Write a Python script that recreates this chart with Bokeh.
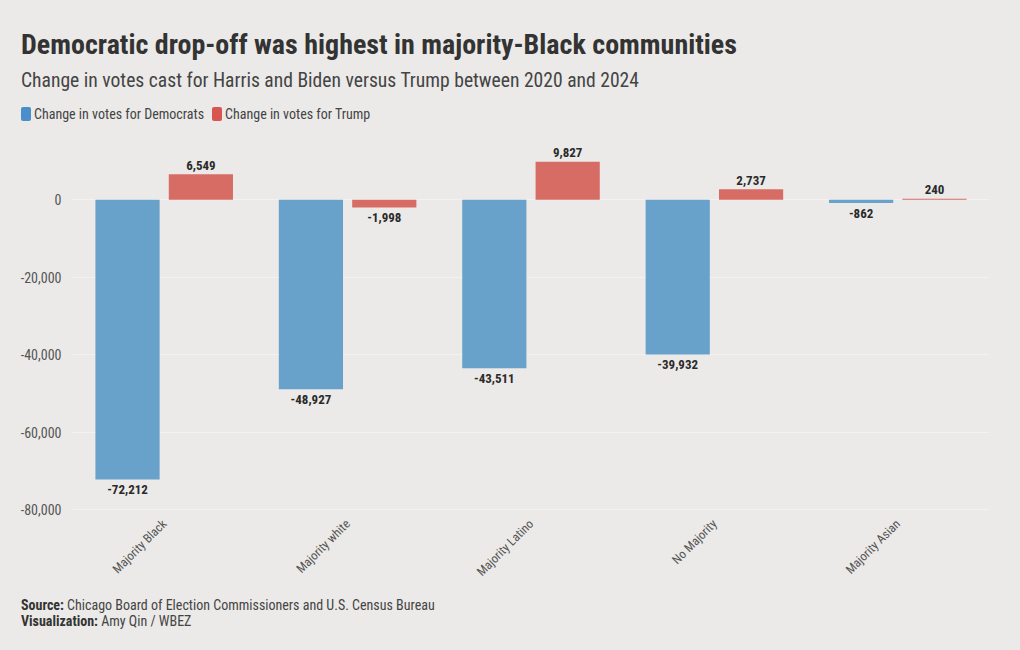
from bokeh.plotting import figure
from bokeh.models import (ColumnDataSource, FactorRange, Range1d, NumeralTickFormatter,
                          FixedTicker, Div)
from bokeh.layouts import column
from bokeh.transform import dodge
from bokeh.core.properties import value
from bokeh.embed import file_html
from bokeh.resources import INLINE

categories = ["Majority Black", "Majority white", "Majority Latino", "No Majority", "Majority Asian"]
dem_change = [-72212, -48927, -43511, -39932, -862]
trump_change = [6549, -1998, 9827, 2737, 240]
y_ticks = [0, -20000, -40000, -60000, -80000]

BG = "#ebeae8"
BLUE = "#68a1ca"
RED = "#d76c65"
BLUE_KEY = "#4a8fcb"
RED_KEY = "#d95550"
FONT = "Roboto Condensed"
F = value(FONT)
CSSFONT = "'Roboto Condensed', Roboto, sans-serif"

def fmt(v):
    return f"{v:,}"

def off(v):
    return -9 if v >= 0 else 10

src = ColumnDataSource(dict(
    cat=categories,
    dem=dem_change,
    trump=trump_change,
    dem_lbl=[fmt(v) for v in dem_change],
    trump_lbl=[fmt(v) for v in trump_change],
    dem_off=[off(v) for v in dem_change],
    trump_off=[off(v) for v in trump_change],
))

p = figure(x_range=FactorRange(*categories), y_range=Range1d(-81500, 14000),
           width=1020, height=460, output_backend="svg", toolbar_location=None,
           min_border_left=72, min_border_right=31, min_border_top=15, min_border_bottom=75,
           margin=0)
p.background_fill_color = BG
p.border_fill_color = BG
p.outline_line_color = None

r_dem = p.vbar(x=dodge("cat", -0.2, range=p.x_range), top="dem", bottom=0, width=0.35,
               source=src, fill_color=BLUE, line_color=None)
r_tr = p.vbar(x=dodge("cat", 0.2, range=p.x_range), top="trump", bottom=0, width=0.35,
              source=src, fill_color=RED, line_color=None)

for col, d in (("dem", -0.2), ("trump", 0.2)):
    p.text(x=dodge("cat", d, range=p.x_range), y=col, text=col + "_lbl", y_offset=col + "_off",
           source=src, text_align="center", text_baseline="middle",
           text_font=F, text_font_size="13px", text_font_style="bold", text_color="#2a2a2a")

p.yaxis.ticker = FixedTicker(ticks=y_ticks)
p.yaxis.formatter = NumeralTickFormatter(format="0,0")
p.yaxis.axis_line_color = None
p.yaxis.major_tick_line_color = None
p.yaxis.minor_tick_line_color = None
p.yaxis.major_tick_out = 0
p.yaxis.major_label_standoff = 11
p.yaxis.major_label_text_font = FONT
p.yaxis.major_label_text_font_size = "14px"
p.yaxis.major_label_text_color = "#555555"

p.xaxis.axis_line_color = None
p.xaxis.major_tick_line_color = None
p.xaxis.major_tick_out = 0
p.xaxis.major_label_orientation = 0.785398
p.xaxis.major_label_standoff = 6
p.xaxis.major_label_text_font = FONT
p.xaxis.major_label_text_font_size = "12.5px"
p.xaxis.major_label_text_color = "#555555"

p.xgrid.grid_line_color = None
p.ygrid.grid_line_color = "#f3f2f0"
p.ygrid.grid_line_width = 1

sq = ("display:inline-block;width:10px;height:14px;border-radius:2px;"
      "vertical-align:middle;margin-right:3px;background:%s;")
header_html = f"""
<div style="position:relative;width:1020px;height:130px;font-family:{CSSFONT};">
  <div style="position:absolute;left:21px;top:30px;line-height:30px;font-size:28px;font-weight:bold;color:#333;white-space:nowrap;">Democratic drop-off was highest in majority-Black communities</div>
  <div style="position:absolute;left:21px;top:69px;line-height:24px;font-size:19.6px;color:#444;white-space:nowrap;">Change in votes cast for Harris and Biden versus Trump between 2020 and 2024</div>
  <div style="position:absolute;left:21px;top:105px;line-height:16px;font-size:14px;color:#444;white-space:nowrap;">
    <span style="{sq % BLUE_KEY}"></span><span style="vertical-align:middle;margin-right:8px;">Change in votes for Democrats</span><span style="{sq % RED_KEY}"></span><span style="vertical-align:middle;">Change in votes for Trump</span>
  </div>
</div>
"""
header = Div(text=header_html, width=1020, height=130, margin=0,
             styles={"background-color": BG})

footer_html = f"""
<div style="position:relative;width:1020px;height:60px;font-family:{CSSFONT};font-size:14px;line-height:16px;color:#444;">
  <div style="position:absolute;left:21px;top:7px;white-space:nowrap;"><b style="color:#333;">Source:</b> Chicago Board of Election Commissioners and U.S. Census Bureau</div>
  <div style="position:absolute;left:21px;top:23px;white-space:nowrap;"><b style="color:#333;">Visualization:</b> Amy Qin / WBEZ</div>
</div>
"""
footer = Div(text=footer_html, width=1020, height=60, margin=0,
             styles={"background-color": BG})

layout = column(header, p, footer, spacing=0, margin=0, styles={"background-color": BG})

html = file_html(layout, INLINE)
html = html.replace("</head>", "<style>html,body{background:%s;}</style></head>" % BG, 1)
open("out.html", "w").write(html)
